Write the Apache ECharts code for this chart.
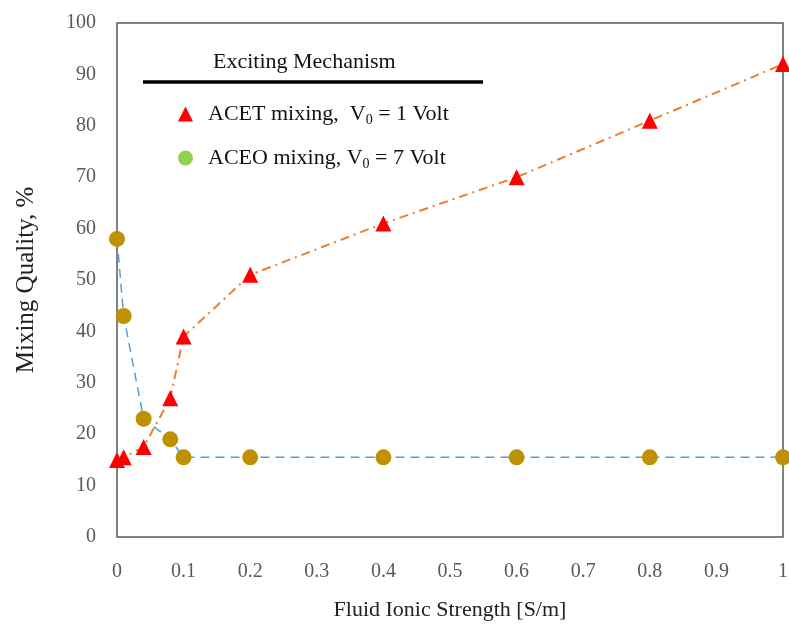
<!DOCTYPE html>
<html>
<head>
<meta charset="utf-8">
<script src="https://cdn.jsdelivr.net/npm/echarts@6/dist/echarts.min.js"></script>
<style>
  html, body { margin: 0; padding: 0; background: #fff; }
  #chart { width: 789px; height: 627px; }
</style>
</head>
<body>
<div id="chart"></div>
<script>
// ionic strength [S/m]
const ionicStrength = [0, 0.01, 0.04, 0.08, 0.1, 0.2, 0.4, 0.6, 0.8, 1];
// mixing quality, %
const acetValues = [15, 15.5, 17.5, 27, 39, 51, 61, 70, 81, 92];
const aceoValues = [58, 43, 23, 19, 15.5, 15.5, 15.5, 15.5, 15.5, 15.5];

const xTicks = ["0", "0.1", "0.2", "0.3", "0.4", "0.5", "0.6", "0.7", "0.8", "0.9", "1"];

const serif = "'Liberation Serif', 'DejaVu Serif', serif";

function pairs(xs, ys) {
  return xs.map((x, i) => [x, ys[i]]);
}

const chart = echarts.init(document.getElementById("chart"));

chart.setOption({
  animation: false,
  textStyle: { fontFamily: serif },
  grid: {
    left: 117,
    right: 6,
    top: 23,
    bottom: 90,
    outerBoundsMode: "none",
    show: true,
    borderColor: "#595959",
    borderWidth: 1.5,
    backgroundColor: "transparent",
  },
  xAxis: {
    type: "value",
    min: 0,
    max: 1,
    interval: 0.1,
    name: "Fluid Ionic Strength [S/m]",
    nameLocation: "middle",
    nameGap: 62,
    nameTextStyle: { fontFamily: serif, fontSize: 22, color: "#222" },
    axisLine: { show: false },
    axisTick: { show: false },
    splitLine: { show: false },
    axisLabel: {
      margin: 25,
      fontFamily: serif,
      fontSize: 20,
      color: "#595959",
      formatter: (v) => xTicks[Math.round(v * 10)],
    },
  },
  yAxis: {
    type: "value",
    min: 0,
    max: 100,
    interval: 10,
    name: "Mixing Quality, %",
    nameLocation: "middle",
    nameRotate: 90,
    nameGap: 78,
    nameTextStyle: { fontFamily: serif, fontSize: 25, color: "#222" },
    axisLine: { show: false },
    axisTick: { show: false },
    splitLine: { show: false },
    axisLabel: {
      margin: 21,
      fontFamily: serif,
      fontSize: 20,
      color: "#595959",
    },
  },
  legend: {
    orient: "vertical",
    left: 178,
    top: 103,
    padding: 0,
    itemGap: 20,
    itemWidth: 15,
    itemHeight: 15,
    textStyle: {
      fontFamily: serif,
      fontSize: 22,
      color: "#111",
      rich: {
        p: { width: 10 },
        a: { fontFamily: serif, fontSize: 22, color: "#111", lineHeight: 26 },
        s: { fontFamily: serif, fontSize: 14, color: "#111", padding: [12, 0, 0, 0] },
      },
    },
    formatter: (name) =>
      name === "ACET"
        ? "{p|}{a|ACET mixing,  V}{s|0}{a| = 1 Volt}"
        : "{p|}{a|ACEO mixing, V}{s|0}{a| = 7 Volt}",
    data: [
      { name: "ACET", icon: "triangle", itemStyle: { color: "#FF0000" } },
      { name: "ACEO", icon: "circle", itemStyle: { color: "#92D050" } },
    ],
  },
  graphic: [
    {
      type: "text",
      left: 213,
      top: 51,
      style: { text: "Exciting Mechanism", font: "22px " + serif, fill: "#111" },
    },
    {
      type: "line",
      shape: { x1: 143, y1: 82, x2: 483, y2: 82 },
      style: { stroke: "#000", lineWidth: 3.5 },
    },
  ],
  series: [
    {
      name: "ACEO",
      type: "line",
      data: pairs(ionicStrength, aceoValues),
      symbol: "circle",
      symbolSize: 16,
      itemStyle: { color: "#BF9000" },
      lineStyle: { color: "#5B9BD5", width: 1.5, type: [9, 6] },
      z: 2,
    },
    {
      name: "ACET",
      type: "line",
      data: pairs(ionicStrength, acetValues),
      symbol: "triangle",
      symbolSize: 16,
      itemStyle: { color: "#FF0000" },
      lineStyle: { color: "#ED7D31", width: 2, type: [9, 5, 2, 5] },
      z: 3,
    },
  ],
});
</script>
</body>
</html>
